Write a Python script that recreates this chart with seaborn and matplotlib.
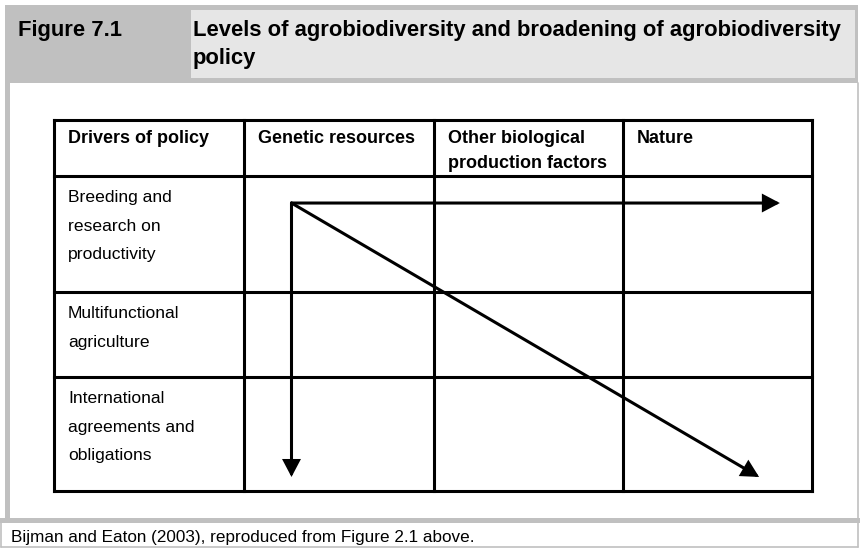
import matplotlib
matplotlib.use("Agg")
import matplotlib.pyplot as plt
from matplotlib.patches import Rectangle
import seaborn as sns

# ---------------- content ----------------
figure_label = "Figure 7.1"
title_lines = ["Levels of agrobiodiversity and broadening of agrobiodiversity", "policy"]
column_headers = ["Drivers of policy", "Genetic resources",
                  "Other biological\nproduction factors", "Nature"]
row_labels = ["Breeding and\nresearch on\nproductivity",
              "Multifunctional\nagriculture",
              "International\nagreements and\nobligations"]
source_note = "Bijman and Eaton (2003), reproduced from Figure 2.1 above."

# arrows: (from column, from row) -> (to column, to row), rows counted below the header
arrow_from_col = ["Genetic resources", "Genetic resources", "Genetic resources"]
arrow_from_row = [0, 0, 0]
arrow_to_col = ["Nature", "Genetic resources", "Nature"]
arrow_to_row = [0, 2, 2]

# ---------------- layout (pixels) ----------------
W, H = 860, 549
col_edges = [54, 244, 434, 623, 812]
row_edges = [120, 176, 292, 377, 491]
GRAY = "#c0c0c0"
LIGHT = "#e6e6e6"

sns.set_theme(style="white")
plt.rcParams["font.family"] = ["Liberation Sans", "DejaVu Sans"]
plt.rcParams["text.color"] = "black"

fig = plt.figure(figsize=(W / 100, H / 100), dpi=100)
ax = fig.add_axes([0, 0, 1, 1])
ax.set_xlim(0, W)
ax.set_ylim(H, 0)
ax.axis("off")

# frame
ax.add_patch(Rectangle((5, 5), 853, 78, fc=GRAY, ec="none"))
ax.add_patch(Rectangle((191, 10), 664, 68, fc=LIGHT, ec="none"))
ax.add_patch(Rectangle((5, 83), 5, 435, fc=GRAY, ec="none"))
ax.add_patch(Rectangle((0, 518), 860, 5, fc=GRAY, ec="none"))
ax.plot([858, 858], [83, 547], color=GRAY, lw=1.2)
ax.plot([1, 1], [523, 547], color=GRAY, lw=1.2)
ax.plot([1, 858], [547, 547], color=GRAY, lw=1.2)

# title
ax.text(18, 36, figure_label, fontsize=15.8, fontweight="bold", va="baseline", ha="left",
        color="black")
for i, line in enumerate(title_lines):
    ax.text(193, 36 + 28 * i, line, fontsize=15.8, fontweight="bold", va="baseline",
            ha="left", color="black")

# table grid
LW = 2.2
for y in row_edges:
    ax.plot([col_edges[0], col_edges[-1]], [y, y], color="black", lw=LW,
            solid_capstyle="projecting")
for x in col_edges:
    ax.plot([x, x], [row_edges[0], row_edges[-1]], color="black", lw=LW,
            solid_capstyle="projecting")

# header texts
for j, hdr in enumerate(column_headers):
    for i, line in enumerate(hdr.split("\n")):
        ax.text(col_edges[j] + 14, row_edges[0] + 23 + 25 * i, line, fontsize=13,
                fontweight="bold", va="baseline", ha="left", color="black")

# row label texts
for r, lab in enumerate(row_labels):
    for i, line in enumerate(lab.split("\n")):
        ax.text(col_edges[0] + 14, row_edges[r + 1] + 26 + 28.7 * i, line, fontsize=12.6,
                va="baseline", ha="left", color="black")

# arrows
def cell_point(col_name, row, fx, fy):
    c = column_headers.index(col_name)
    x = col_edges[c] + fx * (col_edges[c + 1] - col_edges[c])
    y = row_edges[row + 1] + fy * (row_edges[row + 2] - row_edges[row + 1])
    return x, y

start_fx, start_fy = 0.25, 0.233
end_fx = {"Nature": 0.83, "Genetic resources": 0.25}
end_fy = {0: 0.233, 2: 0.877}
for fc, fr, tc, tr in zip(arrow_from_col, arrow_from_row, arrow_to_col, arrow_to_row):
    p0 = cell_point(fc, fr, start_fx, start_fy)
    fxe = end_fx[tc]
    if tc != fc and tr != fr:
        fxe = 0.72
    p1 = cell_point(tc, tr, fxe, end_fy[tr])
    ax.annotate("", xy=p1, xytext=p0,
                arrowprops=dict(arrowstyle="-|>,head_length=0.95,head_width=0.5",
                                mutation_scale=10, lw=2.2, color="black",
                                shrinkA=0, shrinkB=0, joinstyle="miter"))

# source note
ax.text(11, 542, source_note, fontsize=12.3, va="baseline", ha="left", color="black")

fig.savefig("out.png", dpi=100)
